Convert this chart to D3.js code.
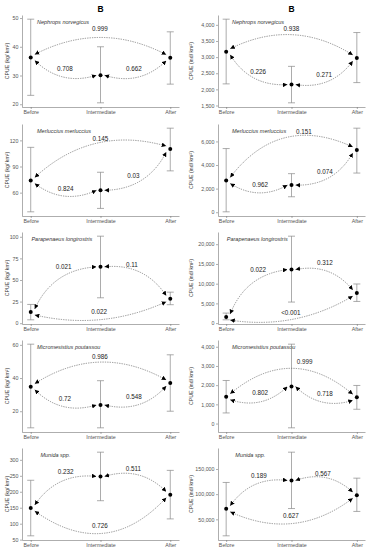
<!DOCTYPE html>
<html><head><meta charset="utf-8">
<script src="https://cdn.jsdelivr.net/npm/d3@7"></script>
<style>body{margin:0;background:#fff} text{font-family:Arial,"Liberation Sans",sans-serif}</style>
</head><body><svg id="c" width="370" height="550"></svg>
<script>
const periods = ["Before","Intermediate","After"];
const species = ["Nephrops norvegicus","Merluccius merluccius","Parapenaeus longirostris","Micromesistius poutassou","Munida spp."];
// Left column: CPUE (kg/km2)
const kgMean = [[36.3,30.1,36.2],[74,62.7,110],[13,65.2,28.3],[34.8,23.8,37],[149,248,191]];
const kgLow  = [[23.1,20.5,27],[38,41.9,85],[3.9,29.4,21.4],[10,10,20],[62,172,115]];
const kgHigh = [[49.6,40,45.2],[112,83.4,134],[21.7,100.7,35.9],[60.4,38.4,54],[236,324,267]];
const kgTicks = [[20,30,40,50],[60,90,120],[0,25,50,75,100],[20,40,60],[50,100,150,200,250,300]];
// p-values: [Before-Intermediate, Intermediate-After, Before-After]
const kgP  = [["0.708","0.662","0.999"],["0.824","0.03","0.145"],["0.021","0.11","0.022"],["0.72","0.548","0.986"],["0.232","0.511","0.726"]];
const kgPY = [[32.2,32.2,46.1],[64.6,79.6,122.3],[64.9,67.2,13.4],[27.4,28.6,52.6],[264,270.6,93.4]];
const kgPX = [[0.49,1.48,0.99],[0.5,1.47,1.0],[0.47,1.45,0.98],[0.49,1.48,0.99],[0.5,1.47,0.99]];
// Right column: CPUE (ind/km2)
const indMean = [[3167,2148,2972],[2698,2298,5277],[1527,13562,7634],[1395,1930,1364],[70833,127183,98016]];
const indLow  = [[2170,1583,2210],[34,1311,3319],[840,5343,5496],[553,-222,744],[17262,71428,65674]];
const indHigh = [[4176,2713,3762],[5396,3268,7123],[2545,22036,9924],[2243,4134,1984],[123214,183333,131746]];
const indTicks = [[1500,2000,2500,3000,3500,4000],[0,2000,4000,6000],[0,5000,10000,15000,20000],[0,1000,2000,3000,4000],[50000,100000,150000]];
const indP  = [["0.226","0.271","0.938"],["0.962","0.074","0.151"],["0.022","0.312","<0.001"],["0.802","0.718","0.999"],["0.189","0.567","0.627"]];
const indPY = [[2549,2457,3877],[2357,3464,6850],[13562,15344,2621],[1587,1535,3220],[135714,139683,56349]];
const indPX = [[0.49,1.5,1.0],[0.52,1.51,1.19],[0.49,1.51,0.99],[0.52,1.51,1.2],[0.5,1.48,0.99]];
const speciesX = [0.09,0.09,0.01,0.09,0.14];

// ---- layout / style ----
const rowsBottom = [107,216,324,432,540];
const plotH = 92;
const outerUp = [true,true,false,true,false];
const cols = [
  {x0:22,x1:179,mean:kgMean,low:kgLow,high:kgHigh,ticks:kgTicks,p:kgP,py:kgPY,px:kgPX,title:"CPUE (kg/ km²)",titleX:9,outerK:[0.26,0.28,0.17,0.3,0.44]},
  {x0:218,x1:365,mean:indMean,low:indLow,high:indHigh,ticks:indTicks,p:indP,py:indPY,px:indPX,title:"CPUE (ind/ km²)",titleX:193,outerK:[0.28,0.4,0.18,0.42,0.3]}
];
const adjK = 0.3;

const svg = d3.select("#c");
svg.append("defs").append("marker")
  .attr("id","arr").attr("viewBox","0 0 8 8").attr("refX",8).attr("refY",4)
  .attr("markerWidth",4.6).attr("markerHeight",4.6).attr("markerUnits","userSpaceOnUse")
  .attr("orient","auto-start-reverse")
  .append("path").attr("d","M0,0L8,4L0,8Z").attr("fill","#000");

function curvePath(p0,p2,k,down){
  const dx=p2[0]-p0[0], dy=p2[1]-p0[1], L=Math.hypot(dx,dy);
  let nx=-dy/L, ny=dx/L;
  if((ny>0)!==down){nx=-nx;ny=-ny;}
  const c=[(p0[0]+p2[0])/2+nx*k*L,(p0[1]+p2[1])/2+ny*k*L];
  return `M${p0[0]},${p0[1]}Q${c[0]},${c[1]} ${p2[0]},${p2[1]}`;
}

cols.forEach(col=>{
  svg.append("text").attr("x",(col.x0+col.x1)/2).attr("y",12).attr("text-anchor","middle")
    .attr("font-size",8.5).attr("font-weight","bold").text("B");
  species.forEach((sp,r)=>{
    const bottom=rowsBottom[r], top=bottom-plotH;
    const mean=col.mean[r], low=col.low[r], high=col.high[r];
    const lo=d3.min(low), hi=d3.max(high), rg=hi-lo;
    const y=d3.scaleLinear().domain([lo-0.05*rg,hi+0.05*rg]).range([bottom,top]);
    const x=d3.scalePoint().domain(periods).range([col.x0,col.x1]).padding(0.125);
    const g=svg.append("g");
    // axes
    const ay=g.append("g").attr("transform",`translate(${col.x0},0)`)
      .call(d3.axisLeft(y).tickValues(col.ticks[r]).tickSize(2).tickSizeOuter(0).tickPadding(1.5).tickFormat(d3.format(",")));
    const ax=g.append("g").attr("transform",`translate(0,${bottom})`)
      .call(d3.axisBottom(x).tickSize(2).tickSizeOuter(0).tickPadding(1.5));
    [ay,ax].forEach(a=>{
      a.select(".domain").attr("stroke","#777").attr("stroke-width",0.6);
      a.selectAll(".tick line").attr("stroke","#777").attr("stroke-width",0.6);
      a.selectAll(".tick text").attr("fill","#555").attr("font-size",5.3).attr("font-family","Arial,'Liberation Sans',sans-serif");
    });
    // y title
    g.append("text").attr("transform",`translate(${col.titleX},${(top+bottom)/2}) rotate(-90)`)
      .attr("text-anchor","middle").attr("font-size",5.2).attr("fill","#333").text(col.title);
    // species
    g.append("text").attr("x",x(periods[0])+speciesX[r]*x.step()).attr("y",top+7).attr("dy","0.35em")
      .attr("font-size",5.5).attr("font-style","italic").attr("fill","#333").text(sp);
    // error bars
    periods.forEach((p,i)=>{
      const cx=x(p);
      g.append("line").attr("x1",cx).attr("x2",cx).attr("y1",y(low[i])).attr("y2",y(high[i]))
        .attr("stroke","#888").attr("stroke-width",0.7);
      [low[i],high[i]].forEach(v=>g.append("line").attr("x1",cx-3.5).attr("x2",cx+3.5).attr("y1",y(v)).attr("y2",y(v))
        .attr("stroke","#888").attr("stroke-width",0.7));
    });
    // curves
    const up=outerUp[r], s=up?1:-1;
    const xb=x(periods[0]), xi=x(periods[1]), xa=x(periods[2]);
    const yb=y(mean[0]), yi=y(mean[1]), ya=y(mean[2]);
    const curves=[
      curvePath([xb+4,yb+s*3],[xi-4,yi],adjK,up),
      curvePath([xi+4,yi],[xa-4,ya+s*3],adjK,up),
      curvePath([xb+4,yb-s*3],[xa-4,ya-s*3],col.outerK[r],!up)
    ];
    curves.forEach(d=>g.append("path").attr("d",d).attr("fill","none").attr("stroke","#666")
      .attr("stroke-width",0.7).attr("stroke-dasharray","1.3,1.1")
      .attr("marker-start","url(#arr)").attr("marker-end","url(#arr)"));
    // means
    g.selectAll("circle.m").data(mean).join("circle").attr("class","m")
      .attr("cx",(d,i)=>x(periods[i])).attr("cy",d=>y(d)).attr("r",2).attr("fill","#000");
    // p labels
    col.p[r].forEach((t,j)=>{
      g.append("text").attr("x",xb+col.px[r][j]*x.step()).attr("y",y(col.py[r][j])).attr("dy","0.35em")
        .attr("text-anchor","middle").attr("font-size",6.3).attr("fill","#222").text(t);
    });
  });
});
</script></body></html>
